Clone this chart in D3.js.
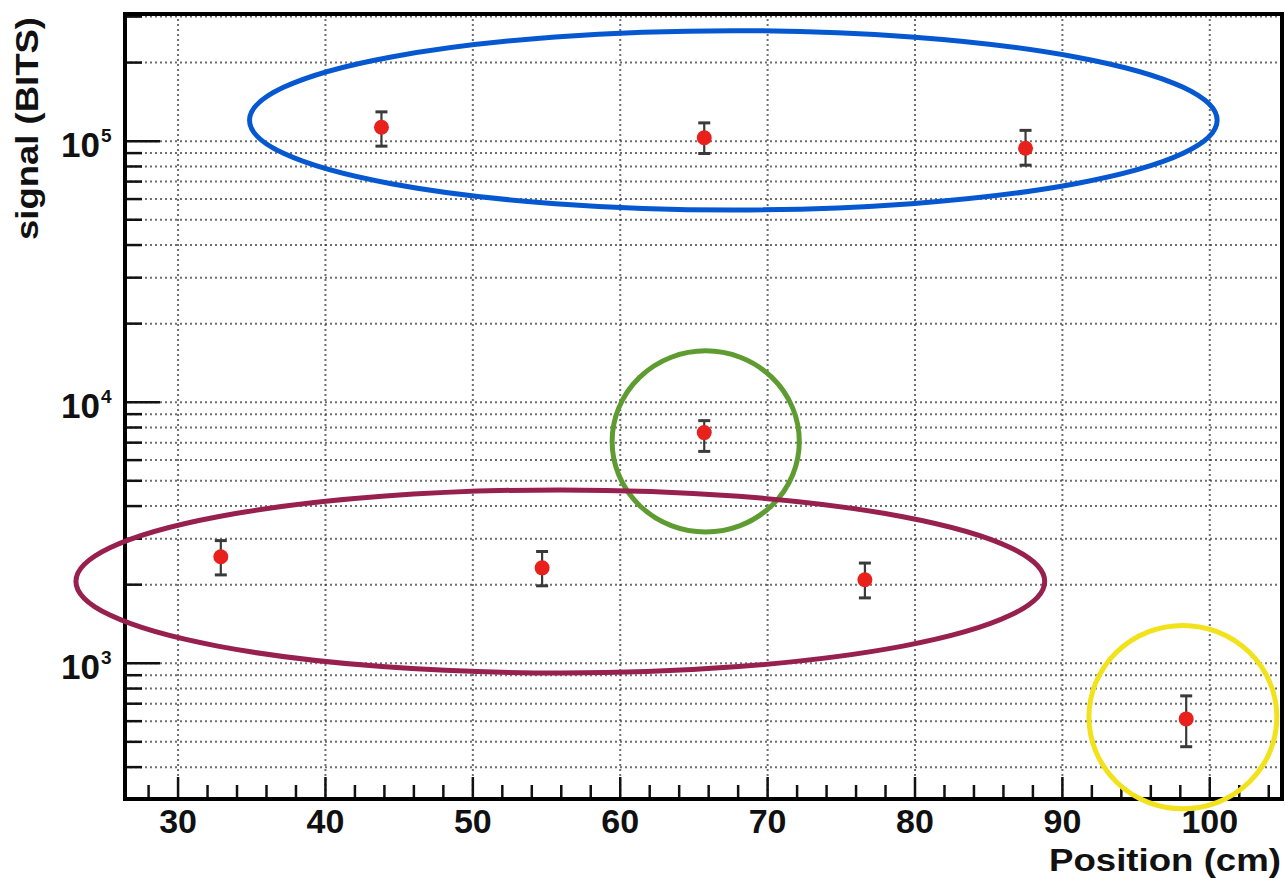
<!DOCTYPE html>
<html>
<head>
<meta charset="utf-8">
<script src="https://cdn.jsdelivr.net/npm/d3@7"></script>
<style>
  body { margin: 0; background: #fff; }
  svg { display: block; font-family: "Liberation Sans", Arial, Helvetica, sans-serif; font-weight: bold; }
</style>
</head>
<body>
<svg id="chart" width="1288" height="880"></svg>
<script>
// measurements: position along the bar (cm) vs signal (BITS)
const positions = [32.9, 43.8, 54.7, 65.7, 65.7, 76.6, 87.5, 98.4];
const signal    = [2560, 113000, 2320, 103000, 7650, 2090, 94000, 612];
const errLow    = [2180, 95700, 1980, 89700, 6480, 1780, 80900, 479];
const errHigh   = [2950, 129500, 2680, 117500, 8500, 2420, 110000, 750];

// axis ticks
const xMajorTicks = [30, 40, 50, 60, 70, 80, 90, 100];
const yDecades = [1e3, 1e4, 1e5];
const yExponents = ["3", "4", "5"];

// highlighted groups (drawn as rings in data space)
const ringColors = ["#0658d0", "#5e9c31", "#97204e", "#f2e21c"];
const ringX0 = [34.85, 59.45, 23.07, 91.8];
const ringX1 = [100.5, 72.15, 88.8, 104.55];
const ringYTop = [265000, 15730, 4615, 1396];
const ringYBot = [54500, 3184, 918, 277];

const width = 1288, height = 880;
const plot = {left: 125, right: 1282, top: 14, bottom: 799};
const svg = d3.select("#chart");

const xScale = d3.scaleLinear()
    .domain([26.4, 104.9])
    .range([plot.left, plot.right]);

const yScale = d3.scaleLog()
    .domain([302, 307000])
    .range([plot.bottom, plot.top]);

// minor tick values
const xMinorTicks = d3.range(28, 105, 2).filter(v => v % 10 !== 0);
const yAll = [];
[100, 1000, 10000, 100000].forEach(dec => {
    for (let k = 1; k <= 9; k++) {
        const v = dec * k;
        if (v >= yScale.domain()[0] && v <= yScale.domain()[1]) yAll.push(v);
    }
});
const yMinorTicks = yAll.filter(v => !yDecades.includes(v));

// grid
const grid = svg.append("g").attr("class", "grid");
grid.selectAll("line.hgrid")
    .data(yAll)
    .enter().append("line")
    .attr("class", "hgrid")
    .attr("x1", plot.left).attr("x2", plot.right)
    .attr("y1", d => yScale(d)).attr("y2", d => yScale(d))
    .attr("stroke", "#333")
    .attr("stroke-width", 2)
    .attr("stroke-dasharray", "2,3")
    .attr("opacity", 0.7);

grid.selectAll("line.vgrid")
    .data(xMajorTicks)
    .enter().append("line")
    .attr("class", "vgrid")
    .attr("x1", d => xScale(d)).attr("x2", d => xScale(d))
    .attr("y1", plot.top).attr("y2", plot.bottom)
    .attr("stroke", "#333")
    .attr("stroke-width", 2)
    .attr("stroke-dasharray", "2,3")
    .attr("opacity", 0.7);

// axes ticks (inside the frame)
const ticks = svg.append("g").attr("stroke", "#111");
ticks.selectAll("line.ymaj")
    .data(yDecades).enter().append("line")
    .attr("x1", plot.left).attr("x2", plot.left + 35)
    .attr("y1", d => yScale(d)).attr("y2", d => yScale(d))
    .attr("stroke-width", 2.5);
ticks.selectAll("line.ymin")
    .data(yMinorTicks).enter().append("line")
    .attr("x1", plot.left).attr("x2", plot.left + 17)
    .attr("y1", d => yScale(d)).attr("y2", d => yScale(d))
    .attr("stroke-width", 2.5);
ticks.selectAll("line.xmaj")
    .data(xMajorTicks).enter().append("line")
    .attr("x1", d => xScale(d)).attr("x2", d => xScale(d))
    .attr("y1", plot.bottom).attr("y2", plot.bottom - 22)
    .attr("stroke-width", 2.5);
ticks.selectAll("line.xmin")
    .data(xMinorTicks).enter().append("line")
    .attr("x1", d => xScale(d)).attr("x2", d => xScale(d))
    .attr("y1", plot.bottom).attr("y2", plot.bottom - 14)
    .attr("stroke-width", 2.5);

// error bars + markers
const pts = svg.append("g").attr("class", "points");
positions.forEach((p, i) => {
    const cx = xScale(p);
    pts.append("line")
        .attr("x1", cx).attr("x2", cx)
        .attr("y1", yScale(errHigh[i])).attr("y2", yScale(errLow[i]))
        .attr("stroke", "#3a3a3a").attr("stroke-width", 2.2);
    [errHigh[i], errLow[i]].forEach(v => {
        pts.append("line")
            .attr("x1", cx - 6).attr("x2", cx + 6)
            .attr("y1", yScale(v)).attr("y2", yScale(v))
            .attr("stroke", "#3a3a3a").attr("stroke-width", 3);
    });
    pts.append("circle")
        .attr("cx", cx).attr("cy", yScale(signal[i]))
        .attr("r", 7.5)
        .attr("fill", "#e8211d");
});

// frame
svg.append("rect")
    .attr("x", plot.left).attr("y", plot.top)
    .attr("width", plot.right - plot.left)
    .attr("height", plot.bottom - plot.top)
    .attr("fill", "none")
    .attr("stroke", "#000")
    .attr("stroke-width", 4);

// tick labels
svg.selectAll("text.xlab")
    .data(xMajorTicks).enter().append("text")
    .attr("class", "xlab")
    .attr("x", d => xScale(d))
    .attr("y", 833)
    .attr("text-anchor", "middle")
    .attr("font-size", "34px")
    .attr("fill", "#111")
    .text(d => d);

yDecades.forEach((d, i) => {
    svg.append("text")
        .attr("x", 100).attr("y", yScale(d) + 16)
        .attr("text-anchor", "end")
        .attr("font-size", "35px")
        .attr("fill", "#111")
        .text("10");
    svg.append("text")
        .attr("x", 101).attr("y", yScale(d) + 1)
        .attr("font-size", "19px")
        .attr("fill", "#111")
        .text(yExponents[i]);
});

// axis titles
svg.append("text")
    .attr("x", 1281).attr("y", 871)
    .attr("text-anchor", "end")
    .attr("font-size", "32px")
    .attr("fill", "#111")
    .attr("textLength", 232)
    .attr("lengthAdjust", "spacingAndGlyphs")
    .text("Position (cm)");

svg.append("text")
    .attr("transform", "translate(38, 17) rotate(-90)")
    .attr("text-anchor", "end")
    .attr("font-size", "32px")
    .attr("fill", "#111")
    .attr("textLength", 223)
    .attr("lengthAdjust", "spacingAndGlyphs")
    .text("signal (BITS)");

// highlight rings
svg.append("g").attr("class", "rings")
    .selectAll("ellipse")
    .data(ringColors).enter().append("ellipse")
    .attr("cx", (d, i) => (xScale(ringX0[i]) + xScale(ringX1[i])) / 2)
    .attr("cy", (d, i) => (yScale(ringYTop[i]) + yScale(ringYBot[i])) / 2)
    .attr("rx", (d, i) => (xScale(ringX1[i]) - xScale(ringX0[i])) / 2)
    .attr("ry", (d, i) => (yScale(ringYBot[i]) - yScale(ringYTop[i])) / 2)
    .attr("fill", "none")
    .attr("stroke", d => d)
    .attr("stroke-width", 5);
</script>
</body>
</html>
